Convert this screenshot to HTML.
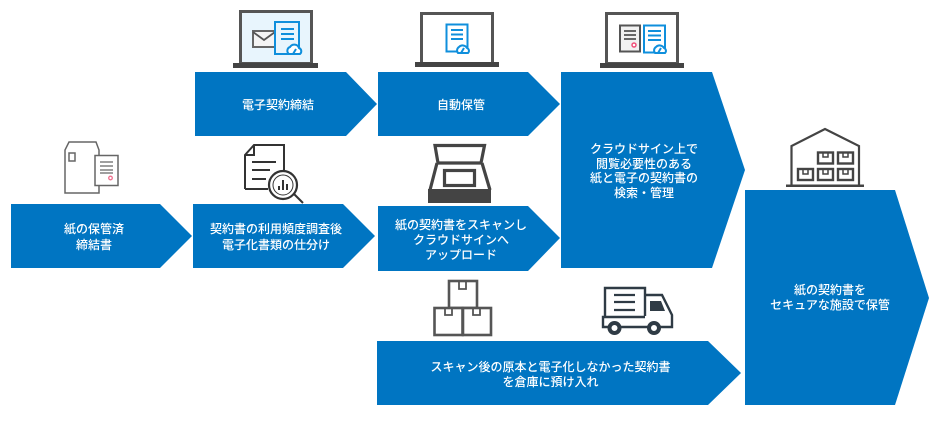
<!DOCTYPE html>
<html><head><meta charset="utf-8">
<style>
html,body{margin:0;padding:0;background:#fff;width:936px;height:422px;overflow:hidden}
svg{display:block}
text{font-family:"Liberation Sans","Noto Sans CJK JP",sans-serif;font-size:12px;fill:#fff;text-anchor:middle;font-weight:500}
.a{fill:#0075c2}
.t{fill:none;stroke:#555;stroke-width:1.800}
.b{fill:none;stroke:#0f8fdc;stroke-width:2}
.d{fill:none;stroke:#333;stroke-width:2}
.ic{filter:blur(.35px)}
</style></head><body>
<svg width="936" height="422" viewBox="0 0 936 422" xmlns="http://www.w3.org/2000/svg">
<polygon class="a" points="11,204 160,204 192,236 160,268 11,268"/>
<polygon class="a" points="193,204 343,204 375,236 343,268 193,268"/>
<polygon class="a" points="195,72 346,72 377,104 346,136 195,136"/>
<polygon class="a" points="378,72 528,72 560,104 528,136 378,136"/>
<polygon class="a" points="561,72 712,72 745,170 712,268 561,268"/>
<polygon class="a" points="378,206 528,206 560,238 528,271 378,271"/>
<polygon class="a" points="377,341 708,341 741,373 708,405 377,405"/>
<polygon class="a" points="745,190 895,190 929,298 895,405 745,405"/>

<text x="94" y="233">紙の保管済</text>
<text x="94" y="249">締結書</text>
<text x="276" y="233">契約書の利用頻度調査後</text>
<text x="276" y="249">電子化書類の仕分け</text>
<text x="278" y="109">電子契約締結</text>
<text x="461" y="109">自動保管</text>
<text x="644" y="153">クラウドサイン上で</text>
<text x="644" y="168">閲覧必要性のある</text>
<text x="644" y="182">紙と電子の契約書の</text>
<text x="644" y="197">検索・管理</text>
<text x="461" y="229">紙の契約書をスキャンし</text>
<text x="461" y="244">クラウドサインへ</text>
<text x="461" y="259">アップロード</text>
<text x="550.500" y="371">スキャン後の原本と電子化しなかった契約書</text>
<text x="550.500" y="386">を倉庫に預け入れ</text>
<text x="830" y="294">紙の契約書を</text>
<text x="830" y="309">セキュアな施設で保管</text>

<g class="ic">
<!-- laptop 1 -->
<rect x="240.500" y="11.500" width="71" height="52" fill="#e8f5fd" stroke="#555" stroke-width="3"/>
<rect x="233" y="63" width="85" height="5" fill="#444"/>
<rect x="253" y="31" width="22" height="16" fill="#f4f4f4" stroke="#666" stroke-width="2"/>
<path d="M253,32 L264,40 L275,32" class="t"/>
<rect x="275" y="22" width="24" height="32" fill="#e8f5fd" stroke="#0f8fdc" stroke-width="2"/>
<path d="M281,29H294M281,34H294M281,39H294" class="b"/>
<path d="M289,54 a4,4 0 0 1 1,-7 a5,5 0 0 1 9,1 a3.500,3.500 0 0 1 1,6 Z" fill="#fff" stroke="#0f8fdc" stroke-width="2"/>
<path d="M293,54 L296,49" class="b"/>

<!-- laptop 2 -->
<rect x="421.500" y="13.500" width="71" height="50" fill="#fff" stroke="#555" stroke-width="3"/>
<rect x="415" y="62" width="84" height="5" fill="#444"/>
<rect x="446.500" y="24.500" width="21" height="27" fill="#fff" stroke="#0f8fdc" stroke-width="2"/>
<path d="M451,30H463M451,34.500H463M451,39H463" class="b"/>
<path d="M458,53 a4,4 0 0 1 1,-6 a5,5 0 0 1 8,1 a3,3 0 0 1 1,5 Z" fill="#fff" stroke="#0f8fdc" stroke-width="2"/>
<path d="M461,53 L464,48" class="b"/>

<!-- laptop 3 -->
<rect x="606.500" y="13.500" width="71" height="50" fill="#fff" stroke="#555" stroke-width="3"/>
<rect x="600" y="63" width="84" height="5" fill="#444"/>
<rect x="620" y="25.500" width="20" height="26" fill="#f2f2f2" stroke="#555" stroke-width="2"/>
<path d="M624,31H636M624,35H636M624,39H636" class="t"/>
<circle cx="634" cy="45" r="2" fill="#fff" stroke="#f0507a" stroke-width="1.500"/>
<rect x="644" y="25.500" width="21" height="27" fill="#fff" stroke="#0f8fdc" stroke-width="2"/>
<path d="M648,31H661M648,35.500H661M648,40H661" class="b"/>
<path d="M655,53 a4,4 0 0 1 1,-6 a5,5 0 0 1 8,1 a3,3 0 0 1 1,5 Z" fill="#fff" stroke="#0f8fdc" stroke-width="2"/>
<path d="M658,53 L661,48" class="b"/>

<!-- envelope + doc -->
<path d="M65,193 V150 L69,142 H96 L99,150 V193 Z" fill="#fff" stroke="#666" stroke-width="1.500"/>
<rect x="69" y="153" width="6" height="8" fill="none" stroke="#666" stroke-width="1.500"/>
<rect x="95" y="155.500" width="23" height="30" fill="#fff" stroke="#666" stroke-width="1.500"/>
<path d="M100,162H113M100,166H113M100,170H113M100,173H113" fill="none" stroke="#666" stroke-width="1.200"/>
<circle cx="110.500" cy="178" r="1.800" fill="#fff" stroke="#f0708f" stroke-width="1.300"/>

<!-- doc + magnifier -->
<path d="M245,189 V155 L254,145 H284 V170 M268,189 H245 M254,145 V155 H245" class="d"/>
<path d="M252,162H276M252,170H270M252,179H266" class="d"/>
<circle cx="283" cy="185" r="14" fill="#fff" stroke="#333" stroke-width="2.200"/>
<circle cx="283" cy="185" r="10" fill="none" stroke="#333" stroke-width="1"/>
<path d="M279,190V186M283,190V180M287,190V184" class="d"/>
<path d="M294,194 L303,203" class="d" stroke-width="2.500"/>

<!-- scanner -->
<path d="M435,145.500 H484.500 L481,163 H438 Z" fill="#fff" stroke="#444" stroke-width="3.200"/>
<path d="M437,163 L430,190 M482,163 L490,190" fill="none" stroke="#444" stroke-width="3.200"/>
<rect x="444.500" y="170.500" width="30" height="15" fill="#fff" stroke="#444" stroke-width="3.200"/>
<rect x="428" y="189" width="63" height="14" fill="#444"/>

<!-- warehouse -->
<path d="M791.500,185 V146 L825,129 L859,146 V185" fill="none" stroke="#444" stroke-width="2.200"/>
<rect x="786" y="184.500" width="78" height="2.500" fill="#444"/>
<g fill="#fff" stroke="#444" stroke-width="2.400">
<rect x="818" y="152.500" width="15" height="11"/><rect x="838" y="152.500" width="15" height="11"/>
<rect x="798" y="169" width="15" height="11"/><rect x="818" y="169" width="15" height="11"/><rect x="838" y="169" width="15" height="11"/>
</g>
<path d="M823,152v5h5v-5M843,152v5h5v-5M803,169v5h5v-5M823,169v5h5v-5M843,169v5h5v-5" fill="none" stroke="#444" stroke-width="1.500"/>

<!-- boxes -->
<g fill="#fff" stroke="#555" stroke-width="2.600">
<rect x="449" y="281" width="28" height="27"/>
<rect x="434.500" y="308" width="28" height="27"/>
<rect x="463" y="308" width="28" height="27"/>
</g>
<path d="M459,281v8h7v-8M445,308v7h7v-7M473,308v7h7v-7" fill="none" stroke="#555" stroke-width="1.800"/>

<!-- truck -->
<path d="M605,316 V288 H645 V316" fill="none" stroke="#2f3b45" stroke-width="2.400"/>
<path d="M645,295 H662 L672,315 V327 H603 V317 H645" fill="none" stroke="#2f3b45" stroke-width="2.400"/>
<path d="M614,295H635M614,302H635M614,310H635" fill="none" stroke="#2f3b45" stroke-width="2.200"/>
<polygon points="650,301 661,301 665,311 650,311" fill="#2f3b45"/>
<circle cx="614.500" cy="328" r="5" fill="#fff" stroke="#2f3b45" stroke-width="4"/>
<circle cx="654" cy="328" r="5" fill="#fff" stroke="#2f3b45" stroke-width="4"/>
</g>
</svg>
</body></html>
